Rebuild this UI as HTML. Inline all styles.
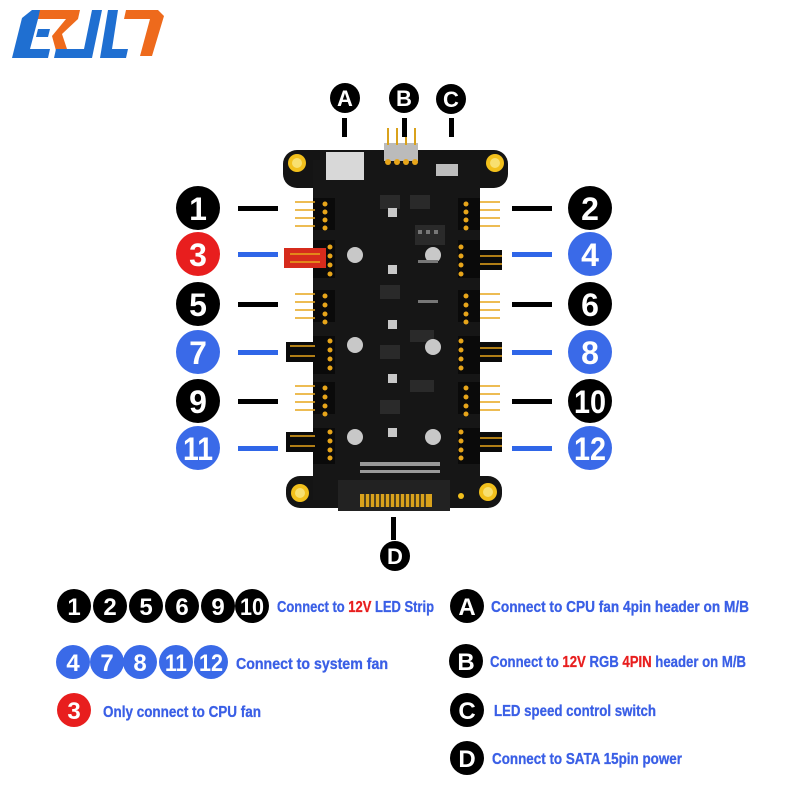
<!DOCTYPE html>
<html><head><meta charset="utf-8"><style>
html,body{margin:0;padding:0;background:#fff;}
svg{display:block}
text{font-family:"Liberation Sans Narrow","Liberation Sans",sans-serif;font-weight:bold;}
</style></head><body>
<svg width="800" height="800" viewBox="0 0 800 800" xmlns="http://www.w3.org/2000/svg">
<rect width="800" height="800" fill="#fff"/>
<!-- logo -->
<g>
<polygon points="22,18 32,10 56,10 53,19 38,19 30,49 50,49 48,58 12,58" fill="#1f6fd1"/>
<polygon points="38,29 50,29 48,37 36,37" fill="#1f6fd1"/>
<polygon points="40,10 80,10 78,19 62,34 70,58 58,58 52,36 66,19 38,19" fill="#ee6a1c"/>
<polygon points="92,10 102,10 92,58 54,58 56,49 84,49" fill="#1f6fd1"/>
<polygon points="108,10 118,10 112,49 128,49 126,58 100,58" fill="#1f6fd1"/>
<polygon points="126,10 158,10 164,16 152,56 140,56 150,19 124,19" fill="#ee6a1c"/>
</g>
<!-- board -->
<g>
<rect x="283" y="150" width="225" height="38" rx="14" fill="#141414"/>
<rect x="286" y="476" width="216" height="32" rx="14" fill="#141414"/>
<rect x="313" y="160" width="167" height="340" fill="#161616"/>
<circle cx="297" cy="163" r="9" fill="#f2c01c"/><circle cx="297" cy="163" r="5" fill="#f8e070"/>
<circle cx="495" cy="163" r="9" fill="#f2c01c"/><circle cx="495" cy="163" r="5" fill="#f8e070"/>
<circle cx="300" cy="493" r="9" fill="#f2c01c"/><circle cx="300" cy="493" r="5" fill="#f8e070"/>
<circle cx="488" cy="492" r="9" fill="#f2c01c"/><circle cx="488" cy="492" r="5" fill="#f8e070"/>
<circle cx="461" cy="496" r="3" fill="#f2c01c"/>
<rect x="326" y="152" width="38" height="28" fill="#d8d8d8"/>
<rect x="384" y="143" width="34" height="18" fill="#bbb"/>
<g stroke="#d9a21c" stroke-width="2"><line x1="388" y1="128" x2="388" y2="145"/><line x1="397" y1="128" x2="397" y2="145"/><line x1="406" y1="128" x2="406" y2="145"/><line x1="415" y1="128" x2="415" y2="145"/></g>
<g fill="#e7a51a"><circle cx="388" cy="162" r="3"/><circle cx="397" cy="162" r="3"/><circle cx="406" cy="162" r="3"/><circle cx="415" cy="162" r="3"/></g>
<rect x="436" y="164" width="22" height="12" fill="#bdbdbd"/>
<g fill="#0a0a0a">
<rect x="313" y="198" width="22" height="32"/><rect x="313" y="240" width="22" height="38"/><rect x="313" y="290" width="22" height="32"/><rect x="313" y="336" width="22" height="38"/><rect x="313" y="382" width="22" height="32"/><rect x="313" y="428" width="22" height="36"/>
<rect x="458" y="198" width="22" height="32"/><rect x="458" y="240" width="22" height="38"/><rect x="458" y="290" width="22" height="32"/><rect x="458" y="336" width="22" height="38"/><rect x="458" y="382" width="22" height="32"/><rect x="458" y="428" width="22" height="36"/>
<rect x="286" y="342" width="28" height="20"/><rect x="286" y="432" width="28" height="20"/>
<rect x="480" y="250" width="22" height="20"/><rect x="480" y="342" width="22" height="20"/><rect x="480" y="432" width="22" height="20"/>
</g>
<rect x="284" y="248" width="42" height="20" fill="#d62b1c"/>
<g stroke="#e7a51a" stroke-width="1.5">
<path d="M295 202h20M295 210h20M295 218h20M295 226h20M295 294h20M295 302h20M295 310h20M295 318h20M295 386h20M295 394h20M295 402h20M295 410h20M480 202h20M480 210h20M480 218h20M480 226h20M480 294h20M480 302h20M480 310h20M480 318h20M480 386h20M480 394h20M480 402h20M480 410h20"/>
<path d="M290 254h30M290 262h30M290 346h25M290 356h25M290 436h25M290 446h25M480 256h22M480 264h22M480 348h22M480 356h22M480 438h22M480 446h22"/>
</g>
<g fill="#e7a51a">
<circle cx="325" cy="204" r="2.5"/><circle cx="325" cy="212" r="2.5"/><circle cx="325" cy="220" r="2.5"/><circle cx="325" cy="228" r="2.5"/>
<circle cx="330" cy="247" r="2.5"/><circle cx="330" cy="256" r="2.5"/><circle cx="330" cy="265" r="2.5"/><circle cx="330" cy="274" r="2.5"/>
<circle cx="325" cy="296" r="2.5"/><circle cx="325" cy="305" r="2.5"/><circle cx="325" cy="314" r="2.5"/><circle cx="325" cy="322" r="2.5"/>
<circle cx="330" cy="341" r="2.5"/><circle cx="330" cy="350" r="2.5"/><circle cx="330" cy="359" r="2.5"/><circle cx="330" cy="368" r="2.5"/>
<circle cx="325" cy="388" r="2.5"/><circle cx="325" cy="397" r="2.5"/><circle cx="325" cy="406" r="2.5"/><circle cx="325" cy="414" r="2.5"/>
<circle cx="330" cy="432" r="2.5"/><circle cx="330" cy="441" r="2.5"/><circle cx="330" cy="450" r="2.5"/><circle cx="330" cy="458" r="2.5"/>
<circle cx="466" cy="204" r="2.5"/><circle cx="466" cy="212" r="2.5"/><circle cx="466" cy="220" r="2.5"/><circle cx="466" cy="228" r="2.5"/>
<circle cx="461" cy="247" r="2.5"/><circle cx="461" cy="256" r="2.5"/><circle cx="461" cy="265" r="2.5"/><circle cx="461" cy="274" r="2.5"/>
<circle cx="466" cy="296" r="2.5"/><circle cx="466" cy="305" r="2.5"/><circle cx="466" cy="314" r="2.5"/><circle cx="466" cy="322" r="2.5"/>
<circle cx="461" cy="341" r="2.5"/><circle cx="461" cy="350" r="2.5"/><circle cx="461" cy="359" r="2.5"/><circle cx="461" cy="368" r="2.5"/>
<circle cx="466" cy="388" r="2.5"/><circle cx="466" cy="397" r="2.5"/><circle cx="466" cy="406" r="2.5"/><circle cx="466" cy="414" r="2.5"/>
<circle cx="461" cy="432" r="2.5"/><circle cx="461" cy="441" r="2.5"/><circle cx="461" cy="450" r="2.5"/><circle cx="461" cy="458" r="2.5"/>
</g>
<!-- components -->
<g fill="#2a2a2a">
<rect x="380" y="195" width="20" height="14"/><rect x="410" y="195" width="20" height="14"/><rect x="380" y="285" width="20" height="14"/><rect x="380" y="345" width="20" height="14"/><rect x="380" y="400" width="20" height="14"/><rect x="410" y="330" width="24" height="12"/><rect x="410" y="380" width="24" height="12"/><rect x="415" y="225" width="30" height="20"/>
</g>
<g fill="#c8c8c8"><circle cx="355" cy="255" r="8"/><circle cx="433" cy="255" r="8"/><circle cx="355" cy="345" r="8"/><circle cx="433" cy="347" r="8"/><circle cx="355" cy="437" r="8"/><circle cx="433" cy="437" r="8"/>
<rect x="388" y="208" width="9" height="9"/><rect x="388" y="265" width="9" height="9"/><rect x="388" y="320" width="9" height="9"/><rect x="388" y="374" width="9" height="9"/><rect x="388" y="428" width="9" height="9"/></g>
<g fill="#777"><rect x="418" y="260" width="20" height="3"/><rect x="418" y="300" width="20" height="3"/><rect x="418" y="230" width="4" height="4"/><rect x="426" y="230" width="4" height="4"/><rect x="434" y="230" width="4" height="4"/></g>
<rect x="338" y="480" width="112" height="31" fill="#222"/>
<rect x="360" y="494" width="72" height="13" fill="#d9a21c"/>
<g stroke="#222" stroke-width="1.5"><path d="M365 494v13M370 494v13M375 494v13M380 494v13M385 494v13M390 494v13M395 494v13M400 494v13M405 494v13M410 494v13M415 494v13M420 494v13M425 494v13"/></g>
<g fill="#999"><rect x="360" y="462" width="80" height="4"/><rect x="360" y="470" width="80" height="3"/></g>
</g>
<g fill="#000">
<rect x="238" y="206" width="40" height="5"/><rect x="238" y="302" width="40" height="5"/><rect x="238" y="399" width="40" height="5"/>
<rect x="512" y="206" width="40" height="5"/><rect x="512" y="302" width="40" height="5"/><rect x="512" y="399" width="40" height="5"/>
<rect x="342" y="118" width="5" height="19"/><rect x="402" y="118" width="5" height="19"/><rect x="449" y="118" width="5" height="19"/>
<rect x="391" y="517" width="5" height="23"/>
</g>
<g fill="#2f66e8">
<rect x="238" y="252" width="40" height="5"/><rect x="238" y="350" width="40" height="5"/><rect x="238" y="446" width="40" height="5"/>
<rect x="512" y="252" width="40" height="5"/><rect x="512" y="350" width="40" height="5"/><rect x="512" y="446" width="40" height="5"/>
</g>
<g font-size="32" text-anchor="middle" fill="#fff">
<circle cx="198" cy="208" r="22" fill="#000"/><text x="198" y="220" fill="#fff">1</text>
<circle cx="198" cy="254" r="22" fill="#e81e1e"/><text x="198" y="266" fill="#fff">3</text>
<circle cx="198" cy="304" r="22" fill="#000"/><text x="198" y="316" fill="#fff">5</text>
<circle cx="198" cy="352" r="22" fill="#3a6ae8"/><text x="198" y="364" fill="#fff">7</text>
<circle cx="198" cy="401" r="22" fill="#000"/><text x="198" y="413" fill="#fff">9</text>
<circle cx="198" cy="448" r="22" fill="#3a6ae8"/><text x="198" y="460" fill="#fff" textLength="30" lengthAdjust="spacingAndGlyphs">11</text>
<circle cx="590" cy="208" r="22" fill="#000"/><text x="590" y="220" fill="#fff">2</text>
<circle cx="590" cy="254" r="22" fill="#3a6ae8"/><text x="590" y="266" fill="#fff">4</text>
<circle cx="590" cy="304" r="22" fill="#000"/><text x="590" y="316" fill="#fff">6</text>
<circle cx="590" cy="352" r="22" fill="#3a6ae8"/><text x="590" y="364" fill="#fff">8</text>
<circle cx="590" cy="401" r="22" fill="#000"/><text x="590" y="413" fill="#fff" textLength="32" lengthAdjust="spacingAndGlyphs">10</text>
<circle cx="590" cy="448" r="22" fill="#3a6ae8"/><text x="590" y="460" fill="#fff" textLength="32" lengthAdjust="spacingAndGlyphs">12</text>
</g>
<g font-size="22" text-anchor="middle">
<circle cx="345" cy="98" r="15" fill="#000"/><text x="345" y="106" fill="#fff">A</text>
<circle cx="404" cy="98" r="15" fill="#000"/><text x="404" y="106" fill="#fff">B</text>
<circle cx="451" cy="99" r="15" fill="#000"/><text x="451" y="107" fill="#fff">C</text>
<circle cx="395" cy="556" r="15" fill="#000"/><text x="395" y="564" fill="#fff">D</text>
</g>
<g font-size="24" text-anchor="middle">
<circle cx="74" cy="606" r="17" fill="#000"/><text x="74" y="615" fill="#fff">1</text>
<circle cx="110" cy="606" r="17" fill="#000"/><text x="110" y="615" fill="#fff">2</text>
<circle cx="146" cy="606" r="17" fill="#000"/><text x="146" y="615" fill="#fff">5</text>
<circle cx="182" cy="606" r="17" fill="#000"/><text x="182" y="615" fill="#fff">6</text>
<circle cx="218" cy="606" r="17" fill="#000"/><text x="218" y="615" fill="#fff">9</text>
<circle cx="252" cy="606" r="17" fill="#000"/><text x="252" y="615" fill="#fff" textLength="24" lengthAdjust="spacingAndGlyphs">10</text>
<circle cx="73" cy="662" r="17" fill="#3a6ae8"/><text x="73" y="671" fill="#fff">4</text>
<circle cx="107" cy="662" r="17" fill="#3a6ae8"/><text x="107" y="671" fill="#fff">7</text>
<circle cx="140" cy="662" r="17" fill="#3a6ae8"/><text x="140" y="671" fill="#fff">8</text>
<circle cx="176" cy="662" r="17" fill="#3a6ae8"/><text x="176" y="671" fill="#fff" textLength="22" lengthAdjust="spacingAndGlyphs">11</text>
<circle cx="211" cy="662" r="17" fill="#3a6ae8"/><text x="211" y="671" fill="#fff" textLength="24" lengthAdjust="spacingAndGlyphs">12</text>
<circle cx="74" cy="710" r="17" fill="#e81e1e"/><text x="74" y="719" fill="#fff">3</text>
<circle cx="467" cy="606" r="17" fill="#000"/><text x="467" y="615" fill="#fff">A</text>
<circle cx="466" cy="661" r="17" fill="#000"/><text x="466" y="670" fill="#fff">B</text>
<circle cx="467" cy="710" r="17" fill="#000"/><text x="467" y="719" fill="#fff">C</text>
<circle cx="467" cy="758" r="17" fill="#000"/><text x="467" y="767" fill="#fff">D</text>
</g>
<g font-size="16" fill="#3a5fe6" stroke="#3a5fe6" stroke-width="0.3">
<text x="277" y="612" textLength="157" lengthAdjust="spacingAndGlyphs">Connect  to <tspan fill="#e81e1e" stroke="#e81e1e">12V</tspan> LED Strip</text>
<text x="236" y="669" textLength="152" lengthAdjust="spacingAndGlyphs">Connect  to system fan</text>
<text x="103" y="717" textLength="158" lengthAdjust="spacingAndGlyphs">Only connect to CPU fan</text>
<text x="491" y="612" textLength="258" lengthAdjust="spacingAndGlyphs">Connect  to CPU  fan 4pin header on M/B</text>
<text x="490" y="667" textLength="256" lengthAdjust="spacingAndGlyphs">Connect to <tspan fill="#e81e1e" stroke="#e81e1e">12V</tspan> RGB <tspan fill="#e81e1e" stroke="#e81e1e">4PIN</tspan> header on M/B</text>
<text x="494" y="716" textLength="162" lengthAdjust="spacingAndGlyphs">LED speed control switch</text>
<text x="492" y="764" textLength="190" lengthAdjust="spacingAndGlyphs">Connect  to SATA 15pin power</text>
</g>
</svg>
</body></html>
